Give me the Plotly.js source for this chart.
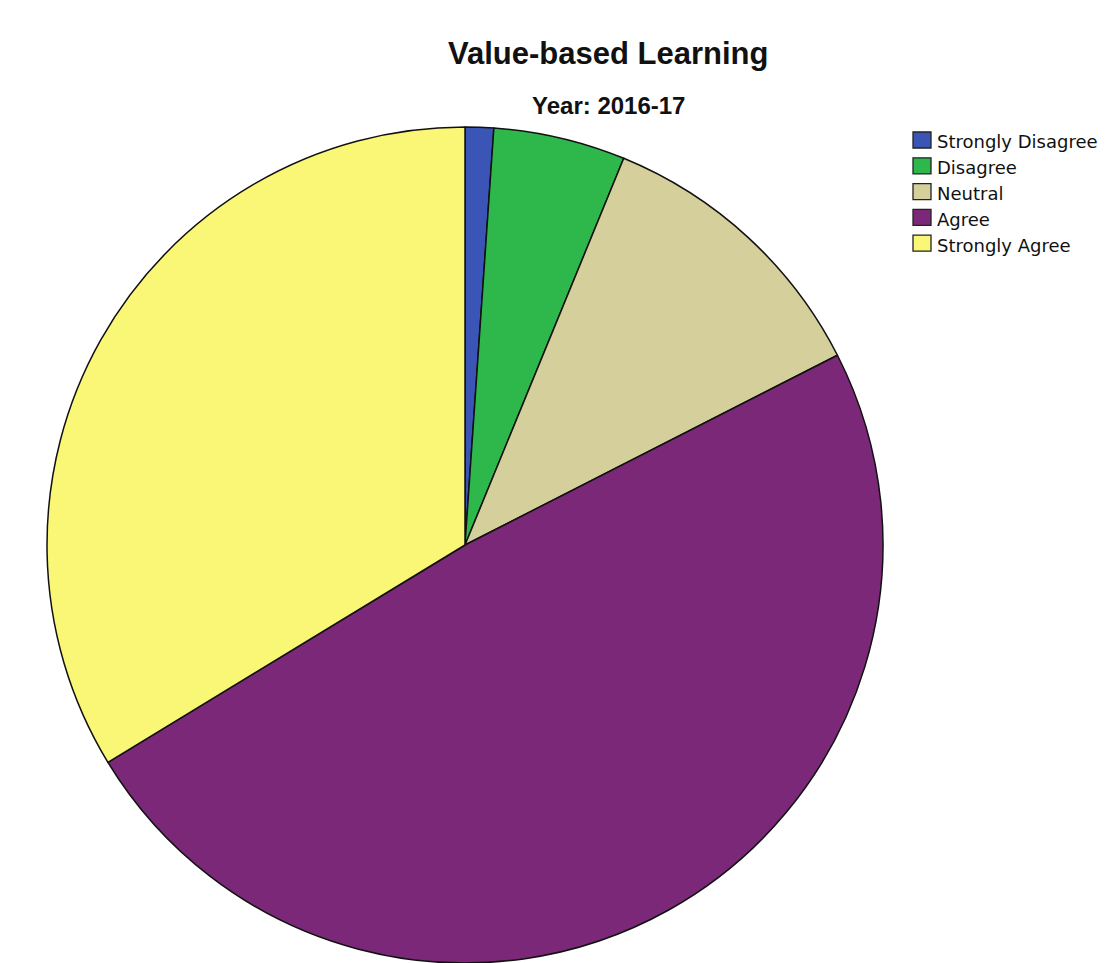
<!DOCTYPE html>
<html>
<head>
<meta charset="utf-8">
<script src="https://cdn.plot.ly/plotly-3.0.1.min.js"></script>
<style>html,body{margin:0;padding:0;background:#fff;}#chart{width:1112px;height:963px;}</style>
</head>
<body>
<div id="chart"></div>
<script>
const categories = ["Strongly Disagree", "Disagree", "Neutral", "Agree", "Strongly Agree"];
const percentages = [1.1, 5.1, 11.3, 48.8, 33.7];
const colors = ["#3a55b5", "#2eb84b", "#d4cf9b", "#7b2878", "#fbf776"];
const chartTitle = "Value-based Learning";
const chartSubtitle = "Year: 2016-17";

const W = 1112, H = 963;
const trace = {
  type: "pie",
  labels: categories,
  values: percentages,
  sort: false,
  direction: "clockwise",
  rotation: 0,
  textinfo: "none",
  hoverinfo: "label+percent",
  showlegend: false,
  marker: { colors: colors, line: { color: "#111", width: 1.5 } },
  domain: { x: [47 / W, 883 / W], y: [0, 1 - 127 / H] }
};

// Manual legend (swatches + text) built from the category/colour arrays
const legendX = 913, legendTop = 140, legendStep = 25.8, swW = 18, swH = 16;
const shapes = [], annotations = [];
categories.forEach((c, i) => {
  const cy = legendTop + i * legendStep;
  shapes.push({
    type: "rect", xref: "paper", yref: "paper",
    x0: legendX / W, x1: (legendX + swW) / W,
    y0: 1 - (cy - swH / 2) / H, y1: 1 - (cy + swH / 2) / H,
    fillcolor: colors[i], line: { color: "#222", width: 1.3 }
  });
  annotations.push({
    text: c, xref: "paper", yref: "paper", x: (legendX + swW + 4) / W, y: 1 - (cy + 2) / H,
    xanchor: "left", yanchor: "middle", showarrow: false,
    font: { family: "DejaVu Sans, sans-serif", size: 18, color: "#111" }
  });
});
annotations.push(
  { text: "<b>" + chartTitle + "</b>", x: 608 / W, y: 1 - 53 / H, xref: "paper", yref: "paper",
    showarrow: false, xanchor: "center", yanchor: "middle",
    font: { family: "Liberation Sans, Arial, sans-serif", size: 31, color: "#111" } },
  { text: "<b>" + chartSubtitle + "</b>", x: 608 / W, y: 1 - 105 / H, xref: "paper", yref: "paper",
    showarrow: false, xanchor: "center", yanchor: "middle",
    font: { family: "Liberation Sans, Arial, sans-serif", size: 24, color: "#111" } }
);

const layout = {
  width: W, height: H,
  margin: { l: 0, r: 0, t: 0, b: 0 },
  paper_bgcolor: "#fff",
  showlegend: false,
  shapes: shapes,
  annotations: annotations
};
Plotly.newPlot("chart", [trace], layout, { displayModeBar: false, staticPlot: true });
</script>
</body>
</html>
